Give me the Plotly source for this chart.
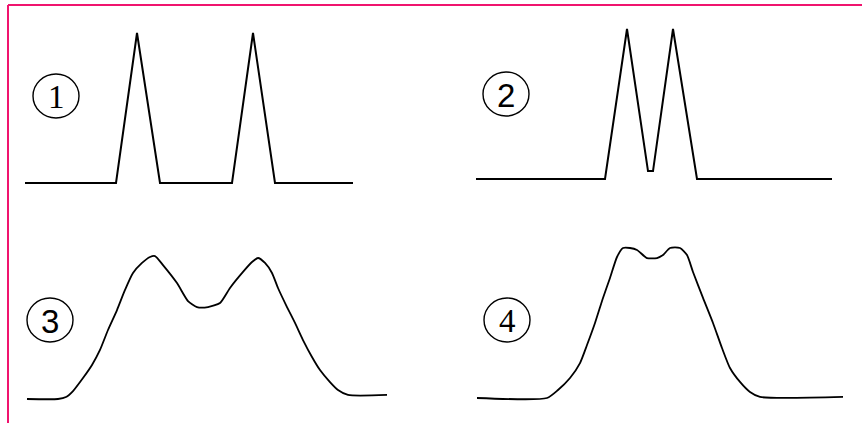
import plotly.graph_objects as go

# ---------------- data (x: time units, y: relative signal) ----------------
p1_x = [0, 9.1, 11.2, 13.5, 20.7, 22.8, 25.0, 32.8]
p1_y = [0, 0, 100, 0, 0, 100, 0, 0]

p2_x = [0, 12.9, 15.1, 17.2, 17.7, 19.7, 22.1, 35.6]
p2_y = [0, 0, 100, 5.3, 5.3, 100, 0, 0]

p3_x = [0, 3.1, 3.9, 4.6, 5.6, 6.5, 7.3, 8.1, 9.0, 9.8, 10.6, 11.5, 12.3, 12.8,
        13.6, 15.0, 16.1, 17.0, 18.1, 19.3, 20.3, 21.6, 22.5, 23.1, 23.8, 24.5,
        25.1, 26.0, 26.8, 27.6, 28.5, 29.3, 30.3, 31.1, 32.1, 36.0]
p3_y = [0, 0, 1.3, 5.3, 14, 22.7, 32.7, 46, 59.3, 72.7, 84, 90.7, 94.7, 95.3,
        89.3, 77.3, 65.3, 61.3, 61.3, 64, 74, 84.7, 91.3, 94, 90.7, 84,
        74, 61.3, 50.7, 39.3, 28, 19.3, 11.3, 6, 2.7, 2.7]

p4_x = [0, 7.0, 8.1, 9.3, 10.3, 11.0, 11.8, 12.6, 13.3, 14.0, 14.6, 15.3, 16.0,
        17.0, 18.0, 18.6, 19.3, 20.3, 21.0, 21.6, 22.6, 23.6, 24.5, 25.3, 26.3,
        27.3, 28.3, 36.6]
p4_y = [0, 0, 5.3, 13.3, 23.3, 35.3, 50, 66.7, 80, 94, 100, 100, 98.7,
        93.3, 93.3, 95.3, 100, 100, 95.3, 84, 66.7, 50, 33.3, 20, 10.7,
        4, 0.7, 0.7]

labels = ["1", "2", "3", "4"]

# ---------------- layout helpers ----------------
W, H = 862, 425
XS, YS = 10.0, 1.5   # px per data unit
PAD = 6

def place(left_px, base_px, xmax, ymax=100):
    xd = [(left_px - PAD) / W, (left_px + xmax * XS + PAD) / W]
    xr = [-PAD / XS, xmax + PAD / XS]
    yd = [1 - (base_px + PAD) / H, 1 - (base_px - ymax * YS - PAD) / H]
    yr = [-PAD / YS, ymax + PAD / YS]
    return xd, xr, yd, yr

panels = [
    (p1_x, p1_y, 25, 183, "linear"),
    (p2_x, p2_y, 476, 179, "linear"),
    (p3_x, p3_y, 27, 399, "spline"),
    (p4_x, p4_y, 477, 398, "spline"),
]

fig = go.Figure()
layout = dict(
    width=W, height=H, margin=dict(l=0, r=0, t=0, b=0),
    paper_bgcolor="white", plot_bgcolor="rgba(0,0,0,0)", showlegend=False,
)

for i, (xs, ys, lpx, bpx, shape) in enumerate(panels):
    k = "" if i == 0 else str(i + 1)
    xd, xr, yd, yr = place(lpx, bpx, max(xs))
    line = dict(color="black", width=2 if shape == "linear" else 1.8, shape=shape)
    if shape == "spline":
        line["smoothing"] = 0.6
    fig.add_trace(go.Scatter(x=xs, y=ys, mode="lines", line=line,
                             xaxis="x" + k, yaxis="y" + k, hoverinfo="skip"))
    ax = dict(visible=False, showgrid=False, zeroline=False, fixedrange=True)
    layout["xaxis" + k] = dict(ax, domain=xd, range=xr, anchor="y" + k)
    layout["yaxis" + k] = dict(ax, domain=yd, range=yr, anchor="x" + k)

fig.update_layout(**layout)

# circled numbers
centers = [(56, 96), (506, 94), (50, 320), (507, 320)]
fonts = ["Liberation Serif", "Liberation Sans", "Liberation Sans", "Liberation Serif"]
for (cx, cy), lab, fnt in zip(centers, labels, fonts):
    fig.add_shape(type="circle", xref="paper", yref="paper",
                  x0=(cx - 23) / W, x1=(cx + 23) / W,
                  y0=1 - (cy + 22) / H, y1=1 - (cy - 22) / H,
                  line=dict(color="black", width=1.4))
    fig.add_annotation(x=cx / W, y=1 - cy / H, xref="paper", yref="paper",
                       text=lab, showarrow=False, xanchor="center", yanchor="middle",
                       font=dict(family=fnt, size=33, color="black"), yshift=-1)

# pink frame (top and left)
pink = "#f0146e"
fig.add_shape(type="line", xref="paper", yref="paper",
              x0=8 / W, x1=1, y0=1 - 5 / H, y1=1 - 5 / H,
              line=dict(color=pink, width=2))
fig.add_shape(type="line", xref="paper", yref="paper",
              x0=8 / W, x1=8 / W, y0=1 - 5 / H, y1=1 - 423 / H,
              line=dict(color=pink, width=2))

fig.write_html("out.html", config={"displayModeBar": False},
               post_script="document.body.style.margin='0';document.body.style.overflow='hidden';")
